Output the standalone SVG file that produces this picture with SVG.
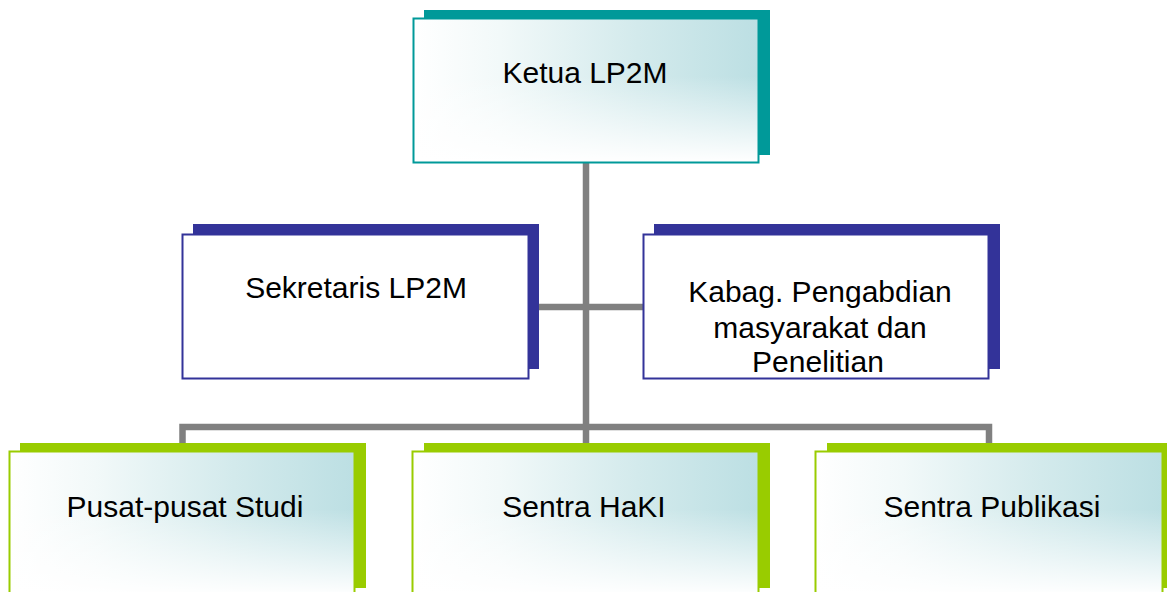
<svg xmlns="http://www.w3.org/2000/svg" width="1167" height="592" viewBox="0 0 1167 592">
  <defs>
    <linearGradient id="hGrad" x1="0" y1="0" x2="1" y2="0">
      <stop offset="0" stop-color="#ffffff"/>
      <stop offset="0.25" stop-color="#f2f9f9"/>
      <stop offset="0.65" stop-color="#d3eaec"/>
      <stop offset="1" stop-color="#bcdfe3"/>
    </linearGradient>
    <linearGradient id="vFade" x1="0" y1="0" x2="0" y2="1">
      <stop offset="0" stop-color="#ffffff" stop-opacity="0"/>
      <stop offset="0.4" stop-color="#ffffff" stop-opacity="0"/>
      <stop offset="1" stop-color="#ffffff" stop-opacity="1"/>
    </linearGradient>
  </defs>
  <style>
    .lbl { font-family: "Liberation Sans", Arial, sans-serif; font-size: 30px; fill: #000000; text-anchor: middle; }
    .conn { fill: none; stroke: #808080; stroke-width: 6.5; stroke-linejoin: miter; }
    .sh-teal { fill: #009999; }
    .sh-blue { fill: #333399; }
    .sh-green { fill: #99cc00; }
    .grad { fill: url(#hGrad); }
    .fade { fill: url(#vFade); }
    .fr-teal { fill: none; stroke: #009999; stroke-width: 2; }
    .fr-blue { fill: #ffffff; stroke: #333399; stroke-width: 2; }
    .fr-green { fill: none; stroke: #99cc00; stroke-width: 2; }
  </style>
  <rect width="1167" height="592" fill="#ffffff"/>

  <g id="connectors">
    <path class="conn" d="M586 163 V443"/>
    <path class="conn" d="M539 307 H643"/>
    <path class="conn" d="M182.5 443 V427 H989 V443"/>
  </g>

  <g id="ketua">
    <rect class="sh-teal" x="424" y="10" width="346" height="145"/>
    <rect class="grad" x="413.5" y="18.5" width="345" height="144"/>
    <rect class="fade" x="413.5" y="18.5" width="345" height="144"/>
    <rect class="fr-teal" x="413.5" y="18.5" width="345" height="144"/>
    <text class="lbl" x="585" y="83">Ketua LP2M</text>
  </g>

  <g id="sekretaris">
    <rect class="sh-blue" x="193" y="224" width="346" height="145"/>
    <rect class="fr-blue" x="182.5" y="234.5" width="346" height="144"/>
    <text class="lbl" x="356" y="298">Sekretaris LP2M</text>
  </g>

  <g id="kabag">
    <rect class="sh-blue" x="654" y="224" width="346" height="145"/>
    <rect class="fr-blue" x="643.5" y="234.5" width="345" height="144"/>
    <text class="lbl" x="820" y="302">Kabag. Pengabdian</text>
    <text class="lbl" x="820" y="337.5">masyarakat dan</text>
    <text class="lbl" x="818" y="372">Penelitian</text>
  </g>

  <g id="pusat">
    <rect class="sh-green" x="20" y="443" width="346" height="145"/>
    <rect class="grad" x="9.5" y="451.5" width="345" height="144"/>
    <rect class="fade" x="9.5" y="451.5" width="345" height="144"/>
    <rect class="fr-green" x="9.5" y="451.5" width="345" height="144"/>
    <text class="lbl" x="185" y="517">Pusat-pusat Studi</text>
  </g>

  <g id="haki">
    <rect class="sh-green" x="424" y="443" width="346" height="145"/>
    <rect class="grad" x="412.5" y="451.5" width="346" height="144"/>
    <rect class="fade" x="412.5" y="451.5" width="346" height="144"/>
    <rect class="fr-green" x="412.5" y="451.5" width="346" height="144"/>
    <text class="lbl" x="584" y="517">Sentra HaKI</text>
  </g>

  <g id="publikasi">
    <rect class="sh-green" x="827" y="443" width="346" height="145"/>
    <rect class="grad" x="815.5" y="451.5" width="347" height="144"/>
    <rect class="fade" x="815.5" y="451.5" width="347" height="144"/>
    <rect class="fr-green" x="815.5" y="451.5" width="347" height="144"/>
    <text class="lbl" x="992" y="517">Sentra Publikasi</text>
  </g>
</svg>
